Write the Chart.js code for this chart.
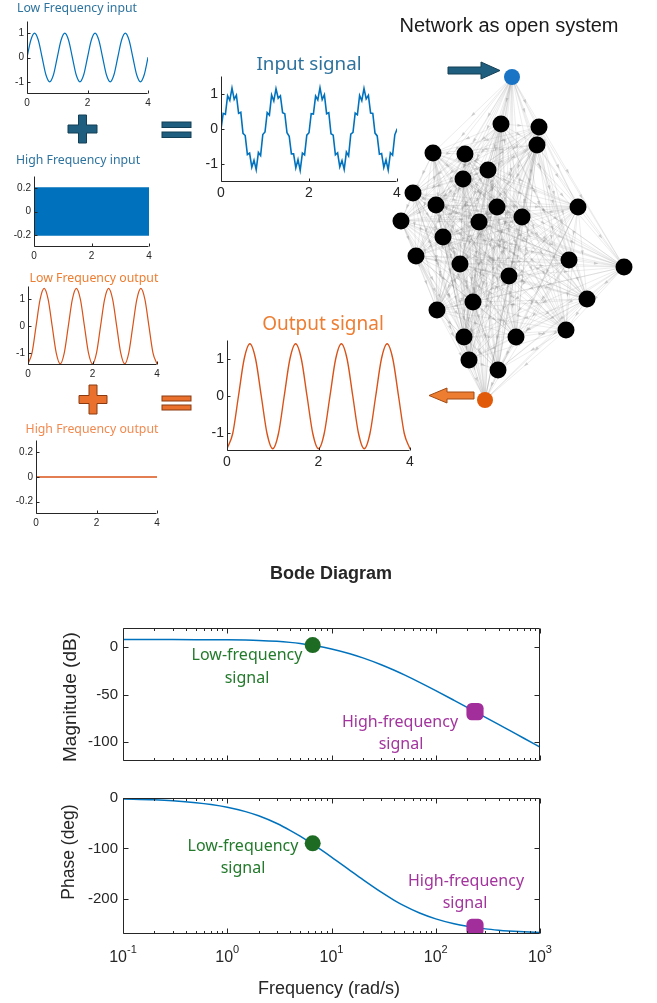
<!DOCTYPE html>
<html>
<head>
<meta charset="utf-8">
<script src="https://cdn.jsdelivr.net/npm/chart.js@4.4.0/dist/chart.umd.min.js"></script>
<style>
  body { margin: 0; background: #fff; width: 657px; height: 1003px; position: relative; overflow: hidden; }
  canvas { position: absolute; }
  .t { position: absolute; white-space: nowrap; transform: translate(-50%, -50%); line-height: 1; }
  .sans { font-family: "Noto Sans", sans-serif; }
  .arial { font-family: "Liberation Sans", Arial, sans-serif; }
  svg { position: absolute; left: 0; top: 0; }
</style>
</head>
<body>
<canvas id="lowIn"></canvas>
<canvas id="highIn"></canvas>
<canvas id="lowOut"></canvas>
<canvas id="highOut"></canvas>
<canvas id="inSig"></canvas>
<canvas id="outSig"></canvas>
<canvas id="net"></canvas>
<canvas id="mag"></canvas>
<canvas id="phase"></canvas>

<svg width="657" height="1003">
  <!-- operators and arrows -->
  <path d="M68 125H78.5V115H86.5V125H97V133H86.5V143H78.5V133H68Z" fill="#1f5e7e" stroke="#123f55" stroke-width="1"/>
  <rect x="162" y="122" width="29" height="5.5" fill="#1f5e7e" stroke="#123f55"/>
  <rect x="162" y="132" width="29" height="5.5" fill="#1f5e7e" stroke="#123f55"/>
  <path d="M79 395.5H89V385H97V395.5H107V403.5H97V414H89V403.5H79Z" fill="#e9712d" stroke="#8a3a10" stroke-width="1"/>
  <rect x="162" y="396" width="29" height="5" fill="#e9712d" stroke="#8a3a10"/>
  <rect x="162" y="405" width="29" height="5" fill="#e9712d" stroke="#8a3a10"/>
  <path d="M448 67H481V62L500 70.5L481 79V74H448Z" fill="#1f5e7e" stroke="#143f55"/>
  <path d="M474 392H447V388L429 395.5L447 403V399H474Z" fill="#ed7d31" stroke="#a14a14"/>
</svg>

<div class="t sans" style="left:77px;top:8px;font-size:12.3px;color:#2d739e">Low Frequency input</div>
<div class="t sans" style="left:78px;top:160px;font-size:12.3px;color:#2d739e">High Frequency input</div>
<div class="t sans" style="left:94px;top:278px;font-size:12.3px;color:#ed7d31">Low Frequency output</div>
<div class="t sans" style="left:92px;top:429px;font-size:12.3px;color:#f08a50">High Frequency output</div>
<div class="t sans" style="left:309px;top:63px;font-size:18.8px;color:#2d739e">Input signal</div>
<div class="t sans" style="left:323px;top:323px;font-size:19px;color:#ed7d31">Output signal</div>
<div class="t arial" style="left:509px;top:25px;font-size:20px;color:#1a1a1a">Network as open system</div>
<div class="t arial" style="left:331px;top:573px;font-size:18px;font-weight:bold;color:#262626">Bode Diagram</div>
<div class="t arial" style="left:69px;top:697px;font-size:19px;color:#262626;transform:translate(-50%,-50%) rotate(-90deg)">Magnitude (dB)</div>
<div class="t arial" style="left:69px;top:852px;font-size:17.5px;color:#262626;transform:translate(-50%,-50%) rotate(-90deg)">Phase (deg)</div>
<div class="t arial" style="left:329px;top:988px;font-size:18px;color:#262626">Frequency (rad/s)</div>
<div class="t sans" style="left:247px;top:654px;font-size:16px;color:#237a2b">Low-frequency</div>
<div class="t sans" style="left:247px;top:677px;font-size:16px;color:#237a2b">signal</div>
<div class="t sans" style="left:400px;top:721px;font-size:16px;color:#a3349e">High-frequency</div>
<div class="t sans" style="left:401px;top:743px;font-size:16px;color:#a3349e">signal</div>
<div class="t sans" style="left:243px;top:845px;font-size:16px;color:#237a2b">Low-frequency</div>
<div class="t sans" style="left:243px;top:867px;font-size:16px;color:#237a2b">signal</div>
<div class="t sans" style="left:466px;top:880px;font-size:16px;color:#a3349e">High-frequency</div>
<div class="t sans" style="left:465px;top:902px;font-size:16px;color:#a3349e">signal</div>

<script>
var FONT = '"Liberation Sans", Arial, sans-serif';
var INK = "#262626";

// time axis shared by the small signal plots
var timeSteps = [0, 0.125, 0.25, 0.375, 0.5, 0.625, 0.75, 0.875, 1, 1.125, 1.25, 1.375, 1.5, 1.625, 1.75, 1.875, 2,
  2.125, 2.25, 2.375, 2.5, 2.625, 2.75, 2.875, 3, 3.125, 3.25, 3.375, 3.5, 3.625, 3.75, 3.875, 4];
var timeTicks = [0, 2, 4];

var lowFreqIn = [0, 0.71, 1, 0.71, 0, -0.71, -1, -0.71, 0, 0.71, 1, 0.71, 0, -0.71, -1, -0.71,
  0, 0.71, 1, 0.71, 0, -0.71, -1, -0.71, 0, 0.71, 1, 0.71, 0, -0.71, -1, -0.71, 0];
var lowFreqOut = [-1.41, -1, 0, 1, 1.41, 1, 0, -1, -1.41, -1, 0, 1, 1.41, 1, 0, -1,
  -1.41, -1, 0, 1, 1.41, 1, 0, -1, -1.41, -1, 0, 1, 1.41, 1, 0, -1, -1.41];

// the high frequency input is so dense it shows as a solid band
var bandTime = [0, 4];
var highFreqInTop = [0.2, 0.2];
var highFreqInBottom = [-0.2, -0.2];
var highFreqOut = [0, 0];

var inputTime = [0, 0.05, 0.1, 0.15, 0.2, 0.25, 0.3, 0.35, 0.4, 0.45, 0.5, 0.55, 0.6, 0.65, 0.7, 0.75, 0.8, 0.85, 0.9, 0.95,
  1, 1.05, 1.1, 1.15, 1.2, 1.25, 1.3, 1.35, 1.4, 1.45, 1.5, 1.55, 1.6, 1.65, 1.7, 1.75, 1.8, 1.85, 1.9, 1.95,
  2, 2.05, 2.1, 2.15, 2.2, 2.25, 2.3, 2.35, 2.4, 2.45, 2.5, 2.55, 2.6, 2.65, 2.7, 2.75, 2.8, 2.85, 2.9, 2.95,
  3, 3.05, 3.1, 3.15, 3.2, 3.25, 3.3, 3.35, 3.4, 3.45, 3.5, 3.55, 3.6, 3.65, 3.7, 3.75, 3.8, 3.85, 3.9, 3.95, 4];
var inputSignal = [0, 0.45, 0.42, 0.95, 0.82, 1.17, 0.85, 0.97, 0.45, 0.48, -0.12, -0.18, -0.72, -0.68, -1.08, -0.88, -1.15, -0.66, -0.75, -0.15,
  -0.08, 0.47, 0.4, 0.97, 0.8, 1.15, 0.88, 0.95, 0.47, 0.44, -0.1, -0.2, -0.7, -0.7, -1.1, -0.86, -1.17, -0.68, -0.73, -0.17,
  -0.1, 0.44, 0.43, 0.94, 0.83, 1.18, 0.84, 0.98, 0.44, 0.47, -0.13, -0.17, -0.73, -0.67, -1.07, -0.89, -1.14, -0.65, -0.76, -0.14,
  -0.09, 0.46, 0.41, 0.96, 0.81, 1.16, 0.86, 0.96, 0.46, 0.45, -0.11, -0.19, -0.71, -0.69, -1.09, -0.87, -1.16, -0.67, -0.74, -0.16, 0];

// network layout: input node first, output node last
var nodeX = [6.6, 6.05, 7.95, 7.85, 2.65, 4.25, 5.4, 4.15, 1.65, 2.8, 5.85, 9.9, 1.05, 4.95, 7.1, 3.15,
  1.8, 4.0, 6.45, 9.45, 12.2, 10.35, 4.65, 2.85, 4.2, 6.8, 9.3, 4.45, 5.9, 5.25];
var nodeY = [17.15, 14.8, 14.65, 13.75, 13.35, 13.3, 12.5, 12.05, 11.35, 10.75, 10.65, 10.65, 9.95, 9.9, 10.15, 9.15,
  8.2, 7.8, 7.2, 8.0, 7.65, 6.05, 5.9, 5.5, 4.15, 4.15, 4.5, 3.0, 2.5, 1.0];

// bode diagram
var bodeFreq = [0.1, 0.2, 0.3, 0.5, 0.7, 1, 1.5, 2, 3, 4, 5, 7, 10, 15, 20, 30, 40, 50, 70, 100, 150, 200, 300, 400, 500, 700, 1000];
var magDb = [7.8, 7.79, 7.78, 7.74, 7.68, 7.56, 7.28, 6.92, 5.98, 4.87, 3.7, 1.32, -2.07, -7.08, -11.43, -18.64, -24.48, -29.37,
  -37.2, -45.92, -56.17, -63.55, -74.03, -81.49, -87.3, -96.05, -105.34];
var phaseDeg = [-1.84, -3.69, -5.53, -9.21, -12.85, -18.26, -27, -35.36, -50.68, -64.1, -75.79, -95.14, -117.26, -143.47, -162.07,
  -187.05, -203.1, -214.23, -228.44, -240.02, -249.82, -254.78, -259.82, -262.35, -263.88, -265.62, -266.94];
var lowSignal = { freq: [6.6], mag: [2], phase: [-90] };
var highSignal = { freq: [238], mag: [-68], phase: [-257] };
var freqTicks = [0.1, 1, 10, 100, 1000];
var freqExp = ["-1", "0", "1", "2", "3"];
var magTicks = [-100, -50, 0];
var phaseTicks = [-200, -100, 0];

function pairs(xs, ys) {
  return xs.map(function (x, i) { return { x: x, y: ys[i] }; });
}

// axis lines and inward tick marks, matlab style
var framePlugin = {
  id: "frame",
  afterDatasetsDraw: function (chart, args, o) {
    var a = chart.chartArea, c = chart.ctx;
    var xs = chart.scales.x, ys = chart.scales.y;
    var L = Math.round(a.left) + 0.5, R = Math.round(a.right) - 0.5;
    var T = Math.round(a.top) + 0.5, B = Math.round(a.bottom) - 0.5;
    c.save();
    c.strokeStyle = INK;
    c.lineWidth = 1;
    c.beginPath();
    if (o.box) {
      c.rect(L, T, R - L, B - T);
    } else {
      c.moveTo(L, T); c.lineTo(L, B); c.lineTo(R, B);
    }
    xs.ticks.forEach(function (t) {
      var px = Math.round(xs.getPixelForValue(t.value)) + 0.5;
      c.moveTo(px, B); c.lineTo(px, B - o.len);
      if (o.box) { c.moveTo(px, T); c.lineTo(px, T + o.len); }
    });
    (o.minor || []).forEach(function (v) {
      var px = Math.round(xs.getPixelForValue(v)) + 0.5;
      c.moveTo(px, B); c.lineTo(px, B - o.len / 2);
      c.moveTo(px, T); c.lineTo(px, T + o.len / 2);
    });
    ys.ticks.forEach(function (t) {
      var py = Math.round(ys.getPixelForValue(t.value)) + 0.5;
      c.moveTo(L, py); c.lineTo(L + o.len, py);
      if (o.box) { c.moveTo(R, py); c.lineTo(R - o.len, py); }
    });
    c.stroke();
    if (o.powerLabels) {
      c.fillStyle = INK;
      xs.ticks.forEach(function (t, i) {
        var px = xs.getPixelForValue(t.value);
        c.font = "16px " + FONT;
        var w1 = c.measureText("10").width;
        c.font = "11px " + FONT;
        var w2 = c.measureText(freqExp[i]).width;
        var x0 = px - (w1 + w2) / 2;
        c.font = "16px " + FONT;
        c.fillText("10", x0, B + 28);
        c.font = "11px " + FONT;
        c.fillText(freqExp[i], x0 + w1, B + 19);
      });
    }
    c.restore();
  }
};

function signalChart(id, area, yw, yRange, yTicks, fontSize, datasets) {
  var pt = 10, pr = 8, xh = fontSize + 10;
  var cv = document.getElementById(id);
  cv.width = area[2] - area[0] + yw + pr;
  cv.height = area[3] - area[1] + pt + xh;
  cv.style.left = (area[0] - yw) + "px";
  cv.style.top = (area[1] - pt) + "px";
  var tickFont = { size: fontSize, family: FONT };
  return new Chart(cv, {
    type: "line",
    data: { datasets: datasets },
    options: {
      responsive: false,
      animation: false,
      events: [],
      layout: { autoPadding: false, padding: { top: pt, right: pr, left: 0, bottom: 0 } },
      elements: { point: { radius: 0 }, line: { borderCapStyle: "round" } },
      plugins: { legend: { display: false }, tooltip: { enabled: false }, frame: { box: false, len: 3 } },
      scales: {
        x: {
          type: "linear", min: 0, max: 4,
          grid: { display: false, drawTicks: false }, border: { display: false },
          afterBuildTicks: function (s) { s.ticks = timeTicks.map(function (v) { return { value: v }; }); },
          afterFit: function (s) { s.height = xh; },
          ticks: { padding: 3, font: tickFont, color: INK, maxRotation: 0, callback: function (v) { return String(v); } }
        },
        y: {
          min: yRange[0], max: yRange[1],
          grid: { display: false, drawTicks: false }, border: { display: false },
          afterBuildTicks: function (s) { s.ticks = yTicks.map(function (v) { return { value: v }; }); },
          afterFit: function (s) { s.width = yw; },
          ticks: { padding: 3, font: tickFont, color: INK, callback: function (v) { return String(v); } }
        }
      }
    },
    plugins: [framePlugin]
  });
}

function lineSet(xs, ys, color, width, interp) {
  var d = { data: pairs(xs, ys), borderColor: color, borderWidth: width, fill: false };
  if (interp) d.cubicInterpolationMode = "monotone";
  return d;
}

var BLUE = "#0072bd", ORANGE = "#d95319";

signalChart("lowIn", [27, 21, 148, 94], 26, [-1.5, 1.5], [-1, 0, 1], 10,
  [lineSet(timeSteps, lowFreqIn, BLUE, 1.2, true)]);

signalChart("highIn", [34, 176, 149, 247], 33, [-0.3, 0.3], [-0.2, 0, 0.2], 10, [
  { data: pairs(bandTime, highFreqInTop), borderColor: BLUE, borderWidth: 1, backgroundColor: BLUE, fill: "+1" },
  { data: pairs(bandTime, highFreqInBottom), borderColor: BLUE, borderWidth: 1, fill: false }
]);

signalChart("lowOut", [28, 286, 157, 365], 27, [-1.45, 1.5], [-1, 0, 1], 10,
  [lineSet(timeSteps, lowFreqOut, ORANGE, 1.2, true)]);

signalChart("highOut", [36, 440, 157, 514], 35, [-0.3, 0.3], [-0.2, 0, 0.2], 10,
  [lineSet(bandTime, highFreqOut, ORANGE, 1.5, false)]);

signalChart("inSig", [221, 75, 397, 182], 26, [-1.5, 1.5], [-1, 0, 1], 14,
  [lineSet(inputTime, inputSignal, BLUE, 1.6, false)]);

signalChart("outSig", [227, 339, 410, 451], 26, [-1.47, 1.5], [-1, 0, 1], 14,
  [lineSet(timeSteps, lowFreqOut, ORANGE, 1.4, true)]);

// network: every node talks to every other node
var edgePlugin = {
  id: "edges",
  beforeDatasetsDraw: function (chart) {
    var pts = [];
    chart.data.datasets.forEach(function (d, i) {
      chart.getDatasetMeta(i).data.forEach(function (p) { pts.push(p); });
    });
    var c = chart.ctx, n = pts.length;
    c.save();
    c.lineWidth = 0.6;
    for (var i = 0; i < n; i++) {
      for (var j = i + 1; j < n; j++) {
        if (i === 0 && j === n - 1) continue;
        var a = pts[i], b = pts[j];
        c.strokeStyle = "rgba(130,130,130,0.26)";
        c.beginPath(); c.moveTo(a.x, a.y); c.lineTo(b.x, b.y); c.stroke();
        var mx = (a.x + b.x) / 2, my = (a.y + b.y) / 2;
        var ang = Math.atan2(b.y - a.y, b.x - a.x);
        c.fillStyle = "rgba(130,130,130,0.35)";
        c.beginPath();
        c.moveTo(mx + Math.cos(ang) * 2, my + Math.sin(ang) * 2);
        c.lineTo(mx + Math.cos(ang + 2.6) * 3, my + Math.sin(ang + 2.6) * 3);
        c.lineTo(mx + Math.cos(ang - 2.6) * 3, my + Math.sin(ang - 2.6) * 3);
        c.fill();
      }
    }
    c.restore();
  }
};

(function () {
  var cv = document.getElementById("net");
  cv.width = 277; cv.height = 380;
  cv.style.left = "380px"; cv.style.top = "40px";
  var last = nodeX.length - 1;
  new Chart(cv, {
    type: "scatter",
    data: {
      datasets: [
        { data: pairs(nodeX.slice(0, 1), nodeY.slice(0, 1)), pointRadius: 8, pointBackgroundColor: "#1a74c6", pointBorderWidth: 0 },
        { data: pairs(nodeX.slice(1, last), nodeY.slice(1, last)), pointRadius: 8.5, pointBackgroundColor: "#000", pointBorderWidth: 0 },
        { data: pairs(nodeX.slice(last), nodeY.slice(last)), pointRadius: 8, pointBackgroundColor: "#e05a0a", pointBorderWidth: 0 }
      ]
    },
    options: {
      responsive: false, animation: false, events: [],
      layout: { autoPadding: false, padding: 0 },
      plugins: { legend: { display: false }, tooltip: { enabled: false } },
      scales: {
        x: { type: "linear", min: 0, max: 13.85, display: false },
        y: { type: "linear", min: 0, max: 19, display: false }
      }
    },
    plugins: [edgePlugin]
  });
})();

function bodeChart(id, area, padBottom, yRange, yTicks, values, lowY, highY, powerLabels) {
  var yw = 43, pt = 12, pr = 16;
  var cv = document.getElementById(id);
  cv.width = area[2] - area[0] + yw + pr;
  cv.height = area[3] - area[1] + pt + padBottom;
  cv.style.left = (area[0] - yw) + "px";
  cv.style.top = (area[1] - pt) + "px";
  var minor = [];
  freqTicks.slice(0, -1).forEach(function (d) {
    for (var m = 2; m <= 9; m++) minor.push(d * m);
  });
  return new Chart(cv, {
    type: "line",
    data: {
      datasets: [
        { data: pairs(lowSignal.freq, lowY), showLine: false, pointRadius: 8, pointBackgroundColor: "#1e6b24", pointBorderWidth: 0 },
        { data: pairs(highSignal.freq, highY), showLine: false, pointStyle: "rectRounded", pointRadius: 10, pointBackgroundColor: "#a22e9c", pointBorderWidth: 0 },
        { data: pairs(bodeFreq, values), borderColor: BLUE, borderWidth: 1.5, pointRadius: 0, fill: false, cubicInterpolationMode: "monotone" }
      ]
    },
    options: {
      responsive: false, animation: false, events: [],
      layout: { autoPadding: false, padding: { top: pt, right: pr, left: 0, bottom: padBottom } },
      plugins: { legend: { display: false }, tooltip: { enabled: false }, frame: { box: true, len: 5, minor: minor, powerLabels: powerLabels } },
      scales: {
        x: {
          type: "logarithmic", min: 0.1, max: 1000, display: false,
          afterBuildTicks: function (s) { s.ticks = freqTicks.map(function (v) { return { value: v }; }); }
        },
        y: {
          min: yRange[0], max: yRange[1],
          grid: { display: false, drawTicks: false }, border: { display: false },
          afterBuildTicks: function (s) { s.ticks = yTicks.map(function (v) { return { value: v }; }); },
          afterFit: function (s) { s.width = yw; },
          ticks: { padding: 5, font: { size: 15, family: FONT }, color: INK, callback: function (v) { return String(v); } }
        }
      }
    },
    plugins: [framePlugin]
  });
}

bodeChart("mag", [123, 626, 540, 763], 12, [-120, 20], magTicks, magDb, lowSignal.mag, highSignal.mag, false);
bodeChart("phase", [123, 796, 540, 934], 40, [-270, 0], phaseTicks, phaseDeg, lowSignal.phase, highSignal.phase, true);
</script>
</body>
</html>
